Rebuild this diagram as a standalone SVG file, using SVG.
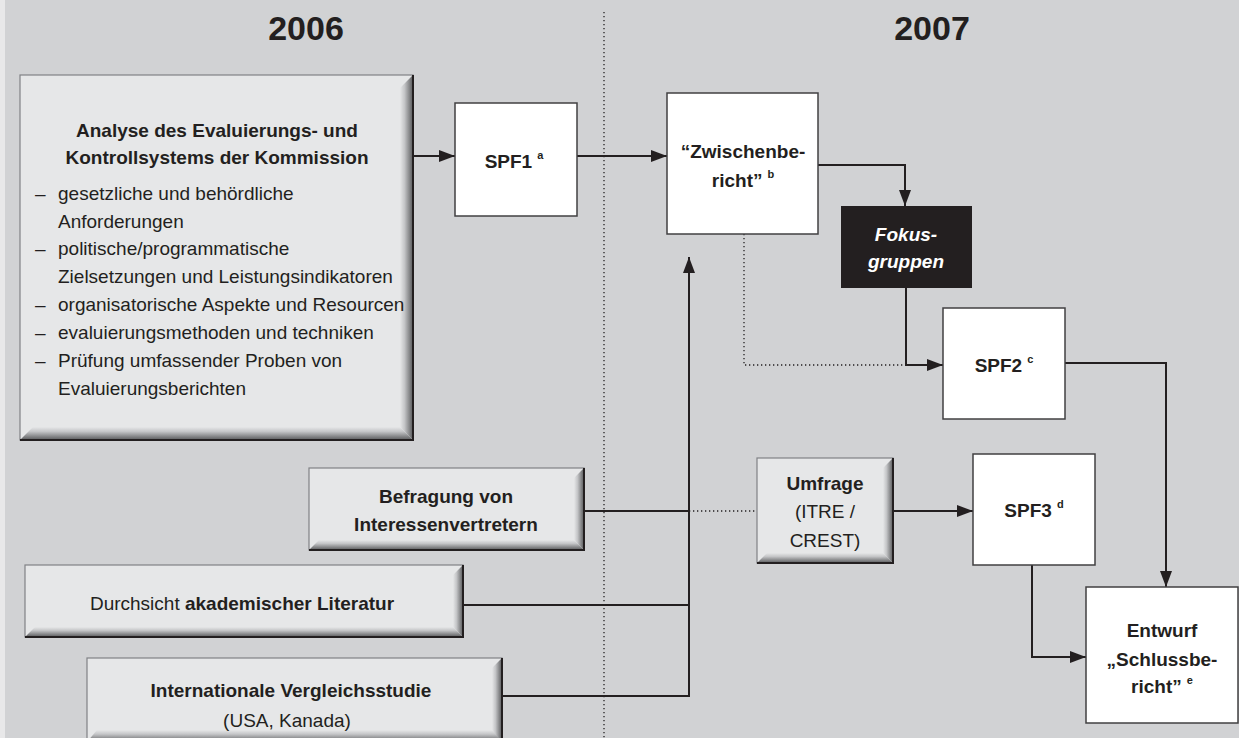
<svg xmlns="http://www.w3.org/2000/svg" width="1239" height="738" viewBox="0 0 1239 738">
<style>
.t{font-family:"Liberation Sans",Arial,sans-serif;fill:#231f20}
.lbl{font-size:19px;font-weight:bold;text-anchor:middle}
.reg{font-size:19px;text-anchor:middle}
.body{font-size:19px}
.yr{font-size:34px;font-weight:bold;text-anchor:middle}
.sup{font-size:11px;font-weight:bold}
.lb{fill:#e6e7e8;stroke:#808285;stroke-width:1.2}
.edge{fill:none;stroke:#231f20;stroke-width:2}
.wb{fill:#fff;stroke:#414042;stroke-width:1.5}
.conn{fill:none;stroke:#231f20;stroke-width:2}
.dot{fill:none;stroke:#231f20;stroke-width:1.3;stroke-dasharray:1.3 2.7}
</style>
<defs>
<linearGradient id="gR" x1="0" y1="0" x2="1" y2="0">
<stop offset="0" stop-color="#e6e7e8"/><stop offset="0.35" stop-color="#c4c5c7"/><stop offset="1" stop-color="#58595b"/>
</linearGradient>
<linearGradient id="gB" x1="0" y1="0" x2="0" y2="1">
<stop offset="0" stop-color="#e6e7e8"/><stop offset="0.35" stop-color="#c4c5c7"/><stop offset="1" stop-color="#58595b"/>
</linearGradient>
<marker id="ah" viewBox="0 0 16 12" markerWidth="16" markerHeight="12" refX="16" refY="6" orient="auto" markerUnits="userSpaceOnUse">
<path d="M0,0 L16,6 L0,12 Z" fill="#231f20"/>
</marker>
</defs>

<rect x="0" y="0" width="1239" height="738" fill="#e8e8e9"/>
<rect x="5" y="0" width="1234" height="738" fill="#d1d2d4"/>
<line x1="604" y1="12" x2="604" y2="738" class="dot"/>
<text class="t yr" x="306" y="40">2006</text>
<text class="t yr" x="932" y="40">2007</text>

<g id="connectors">
<line x1="413" y1="156" x2="455" y2="156" class="conn" marker-end="url(#ah)"/>
<line x1="577" y1="156" x2="667" y2="156" class="conn" marker-end="url(#ah)"/>
<polyline points="818,165 905,165 905,206" class="conn" marker-end="url(#ah)"/>
<polyline points="744,234 744,365 906,365" class="dot"/>
<polyline points="906,288 906,365 943,365" class="conn" stroke-width="1.6" marker-end="url(#ah)"/>
<polyline points="1065,363 1166,363 1166,587" class="conn" stroke-width="1.6" marker-end="url(#ah)"/>
<polyline points="1032,565 1032,657 1086,657" class="conn" stroke-width="1.6" marker-end="url(#ah)"/>
<line x1="893" y1="511" x2="973" y2="511" class="conn" marker-end="url(#ah)"/>
<line x1="584" y1="511" x2="689" y2="511" class="conn"/>
<line x1="689" y1="511" x2="757" y2="511" class="dot"/>
<line x1="463" y1="605" x2="689" y2="605" class="conn" stroke-width="1.6"/>
<polyline points="502,696 689,696 689,257" class="conn" stroke-width="1.6" marker-end="url(#ah)"/>
</g>

<g id="analyse">
<rect x="20" y="75" width="393" height="365" class="lb"/>
<polygon points="413,75 413,440 400,427 400,88" fill="url(#gR)"/>
<polygon points="20,440 413,440 400,427 33,427" fill="url(#gB)"/>
<path d="M413,75 V440 H20" class="edge"/>
<text class="t lbl" x="217" y="137">Analyse des Evaluierungs- und</text>
<text class="t lbl" x="217" y="164">Kontrollsystems der Kommission</text>
<g class="t body">
<text x="35" y="200">–</text><text x="58" y="200">gesetzliche und behördliche</text>
<text x="58" y="228">Anforderungen</text>
<text x="35" y="255">–</text><text x="58" y="255">politische/programmatische</text>
<text x="58" y="283">Zielsetzungen und Leistungsindikatoren</text>
<text x="35" y="311">–</text><text x="58" y="311">organisatorische Aspekte und Resourcen</text>
<text x="35" y="339">–</text><text x="58" y="339">evaluierungsmethoden und techniken</text>
<text x="35" y="367">–</text><text x="58" y="367">Prüfung umfassender Proben von</text>
<text x="58" y="395">Evaluierungsberichten</text>
</g>
</g>

<g id="spf1">
<rect x="455" y="103" width="122" height="113" class="wb"/>
<text class="t lbl" x="514" y="168" font-size="20">SPF1<tspan class="sup" dx="5" dy="-9">a</tspan></text>
</g>

<g id="zwischenbericht">
<rect x="667" y="93" width="151" height="141" class="wb"/>
<text class="t lbl" x="743" y="158">“Zwischenbe-</text>
<text class="t lbl" x="743" y="187">richt”<tspan class="sup" dx="5" dy="-9">b</tspan></text>
</g>

<g id="fokus">
<rect x="841" y="206" width="131" height="82" fill="#231f20"/>
<text class="t lbl" x="906" y="241" font-style="italic" fill="#fff" style="fill:#fff">Fokus-</text>
<text class="t lbl" x="906" y="268" font-style="italic" fill="#fff" style="fill:#fff">gruppen</text>
</g>

<g id="spf2">
<rect x="943" y="308" width="122" height="111" class="wb"/>
<text class="t lbl" x="1004" y="372" font-size="20">SPF2<tspan class="sup" dx="5" dy="-9">c</tspan></text>
</g>

<g id="befragung">
<rect x="309" y="468" width="275" height="82" class="lb"/>
<polygon points="584,468 584,550 574,540 574,478" fill="url(#gR)"/>
<polygon points="309,550 584,550 574,540 319,540" fill="url(#gB)"/>
<path d="M584,468 V550 H309" class="edge"/>
<text class="t lbl" x="446" y="503">Befragung von</text>
<text class="t lbl" x="446" y="531">Interessenvertretern</text>
</g>

<g id="umfrage">
<rect x="757" y="458" width="136" height="105" class="lb"/>
<polygon points="893,458 893,563 883,553 883,468" fill="url(#gR)"/>
<polygon points="757,563 893,563 883,553 767,553" fill="url(#gB)"/>
<path d="M893,458 V563 H757" class="edge"/>
<text class="t lbl" x="825" y="490">Umfrage</text>
<text class="t reg" x="825" y="518">(ITRE /</text>
<text class="t reg" x="825" y="547">CREST)</text>
</g>

<g id="spf3">
<rect x="973" y="454" width="122" height="111" class="wb"/>
<text class="t lbl" x="1034" y="517" font-size="20">SPF3<tspan class="sup" dx="5" dy="-9">d</tspan></text>
</g>

<g id="durchsicht">
<rect x="25" y="565" width="438" height="72" class="lb"/>
<polygon points="463,565 463,637 453,627 453,575" fill="url(#gR)"/>
<polygon points="25,637 463,637 453,627 35,627" fill="url(#gB)"/>
<path d="M463,565 V637 H25" class="edge"/>
<text class="t reg" x="242" y="610">Durchsicht <tspan font-weight="bold">akademischer Literatur</tspan></text>
</g>

<g id="international">
<rect x="87" y="658" width="415" height="84" class="lb"/>
<polygon points="502,658 502,742 492,732 492,668" fill="url(#gR)"/>
<polygon points="87,742 502,742 492,730 97,730" fill="url(#gB)"/>
<path d="M502,658 V742 H87" class="edge"/>
<text class="t lbl" x="291" y="697">Internationale Vergleichsstudie</text>
<text class="t reg" x="287" y="727">(USA, Kanada)</text>
</g>

<g id="entwurf">
<rect x="1086" y="587" width="152" height="136" class="wb"/>
<text class="t lbl" x="1162" y="637">Entwurf</text>
<text class="t lbl" x="1162" y="666">„Schlussbe-</text>
<text class="t lbl" x="1162" y="693">richt”<tspan class="sup" dx="5" dy="-9">e</tspan></text>
</g>
</svg>
